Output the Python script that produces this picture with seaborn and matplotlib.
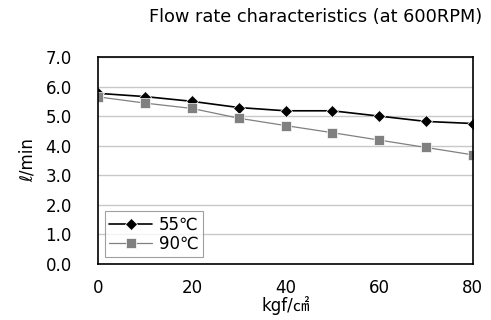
import matplotlib
matplotlib.use("Agg")
import matplotlib.pyplot as plt
import seaborn as sns
import pandas as pd

pressure = [0, 10, 20, 30, 40, 50, 60, 70, 80]
flow_55 = [5.77, 5.66, 5.50, 5.29, 5.18, 5.18, 5.00, 4.82, 4.75]
flow_90 = [5.65, 5.44, 5.26, 4.93, 4.68, 4.44, 4.19, 3.94, 3.69]
series_names = ["55℃", "90℃"]
title = "Flow rate characteristics (at 600RPM)"
xlabel = "kgf/㎠"
ylabel = "ℓ/min"

df = pd.DataFrame({
    "pressure": pressure * 2,
    "flow": flow_55 + flow_90,
    "series": [series_names[0]] * len(pressure) + [series_names[1]] * len(pressure),
})

sns.set_style("white")
plt.rcParams['font.family'] = ['DejaVu Sans', 'Noto Sans CJK KR']
plt.rcParams['text.color'] = 'black'
plt.rcParams['xtick.color'] = 'black'
plt.rcParams['ytick.color'] = 'black'
plt.rcParams['axes.labelcolor'] = 'black'

FS = 12

fig = plt.figure(figsize=(4.91, 3.2), dpi=100)
ax = fig.add_axes([0.2, 0.175, 0.763, 0.647])

sns.lineplot(data=df, x="pressure", y="flow", hue="series", style="series",
             palette={series_names[0]: "black", series_names[1]: "#808080"},
             markers={series_names[0]: "D", series_names[1]: "s"},
             dashes=False, ax=ax, markeredgewidth=0.5)
for line, ms, lw in zip(ax.lines, [6.5, 7], [1.2, 0.9]):
    line.set_markersize(ms)
    line.set_linewidth(lw)

ax.set_xlim(0, 80)
ax.set_ylim(0, 7)
ax.set_xticks([0, 20, 40, 60, 80])
ax.set_yticks([i for i in range(8)])
ax.set_yticklabels([f"{i:.1f}" for i in range(8)])
ax.yaxis.grid(True, color="#c8c8c8", linewidth=1)
ax.xaxis.grid(False)
ax.tick_params(axis="x", direction="in", length=4, width=0.8, pad=11, labelsize=FS)
ax.tick_params(axis="y", length=0, pad=19, labelsize=FS)
for s in ax.spines.values():
    s.set_color("black")
    s.set_linewidth(1.2)

ax.set_xlabel(xlabel, fontsize=FS, labelpad=-1)
ax.set_ylabel(ylabel, fontsize=FS, labelpad=6)

leg = ax.legend(loc="lower left", fontsize=FS, frameon=True, fancybox=False,
                edgecolor="#888888", handlelength=2.6, borderpad=0.25,
                labelspacing=0.1, handletextpad=0.4, borderaxespad=0.4)
leg.get_frame().set_linewidth(0.8)
for line, ms, lw in zip(leg.get_lines(), [6.5, 7], [1.2, 0.9]):
    line.set_markersize(ms)
    line.set_linewidth(lw)

fig.text(316 / 491, 1 - 17 / 320, title, ha="center", va="center", fontsize=12.8)

fig.savefig("out.png", dpi=100)
